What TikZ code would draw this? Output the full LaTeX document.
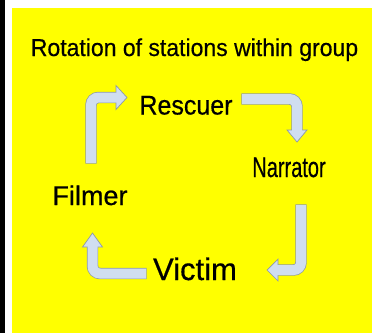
\documentclass[tikz,border=0pt]{standalone}
\usepackage{fontspec}
\setmainfont{Liberation Sans}[FakeBold=0.5]
\usepackage{tikz}
\definecolor{sheet}{RGB}{255,255,0}
\definecolor{arrowfill}{RGB}{208,222,240}
\definecolor{arrowline}{RGB}{140,152,168}
\tikzset{
    station/.style={inner sep=0pt, anchor=base, text=black},
    shaftout/.style={draw=arrowline, line width=11.4pt, rounded corners=7.5pt, shorten <=-0.7pt},
    shaftin/.style={draw=arrowfill, line width=10pt, rounded corners=7.5pt, shorten >=-0.9pt},
    head/.style={fill=arrowfill, draw=arrowline, line width=0.7pt, line join=miter}
}

\begin{document}
\begin{tikzpicture}[x=1pt, y=-1pt]
    \useasboundingbox (0,0) rectangle (372,333);
    \fill[white] (0,0) rectangle (372,333);
    \fill[black] (0,0) rectangle (4.5,333);
    \fill[sheet] (12,8) rectangle (372,333);

    \node (title) [station, font=\fontsize{23}{23}\selectfont] at (194.5,56) {\scalebox{1}[1.06]{Rotation of stations within group}};
    \node (rescuer) [station, font=\fontsize{25}{25}\selectfont] at (186,114.5) {\scalebox{1}[1.08]{Rescuer}};
    \node (narrator) [station, font=\fontsize{27}{27}\selectfont] at (289,177) {\scalebox{0.74}[1.05]{Narrator}};
    \node (filmer) [station, font=\fontsize{27}{27}\selectfont] at (90,205) {Filmer};
    \node (victim) [station, font=\fontsize{31}{31}\selectfont] at (195,280) {Victim};

    % Filmer -> Rescuer
    \coordinate (fr1) at (91,163);
    \coordinate (fr2) at (91,97.5);
    \coordinate (fr3) at (116,97.5);
    % Rescuer -> Narrator
    \coordinate (rn1) at (242,99);
    \coordinate (rn2) at (297,99);
    \coordinate (rn3) at (297,130);
    % Narrator -> Victim
    \coordinate (nv1) at (301,205);
    \coordinate (nv2) at (301,270);
    \coordinate (nv3) at (278,270);
    % Victim -> Filmer
    \coordinate (vf1) at (146,273.5);
    \coordinate (vf2) at (92.5,273.5);
    \coordinate (vf3) at (92.5,247);

    \draw[shaftout] (fr1) -- (fr2) -- (fr3);
    \draw[shaftout] (rn1) -- (rn2) -- (rn3);
    \draw[shaftout] (nv1) -- (nv2) -- (nv3);
    \draw[shaftout] (vf1) -- (vf2) -- (vf3);

    \draw[head] (fr3) +(0,-12) -- +(11,0) -- +(0,12) -- cycle;
    \draw[head] (rn3) +(-10,0) -- +(0,12) -- +(10,0) -- cycle;
    \draw[head] (nv3) +(0,-11) -- +(-11,0) -- +(0,11) -- cycle;
    \draw[head] (vf3) +(-10,0) -- +(0,-14) -- +(10,0) -- cycle;

    \draw[shaftin] (fr1) -- (fr2) -- (fr3);
    \draw[shaftin] (rn1) -- (rn2) -- (rn3);
    \draw[shaftin] (nv1) -- (nv2) -- (nv3);
    \draw[shaftin] (vf1) -- (vf2) -- (vf3);
\end{tikzpicture}
\end{document}
